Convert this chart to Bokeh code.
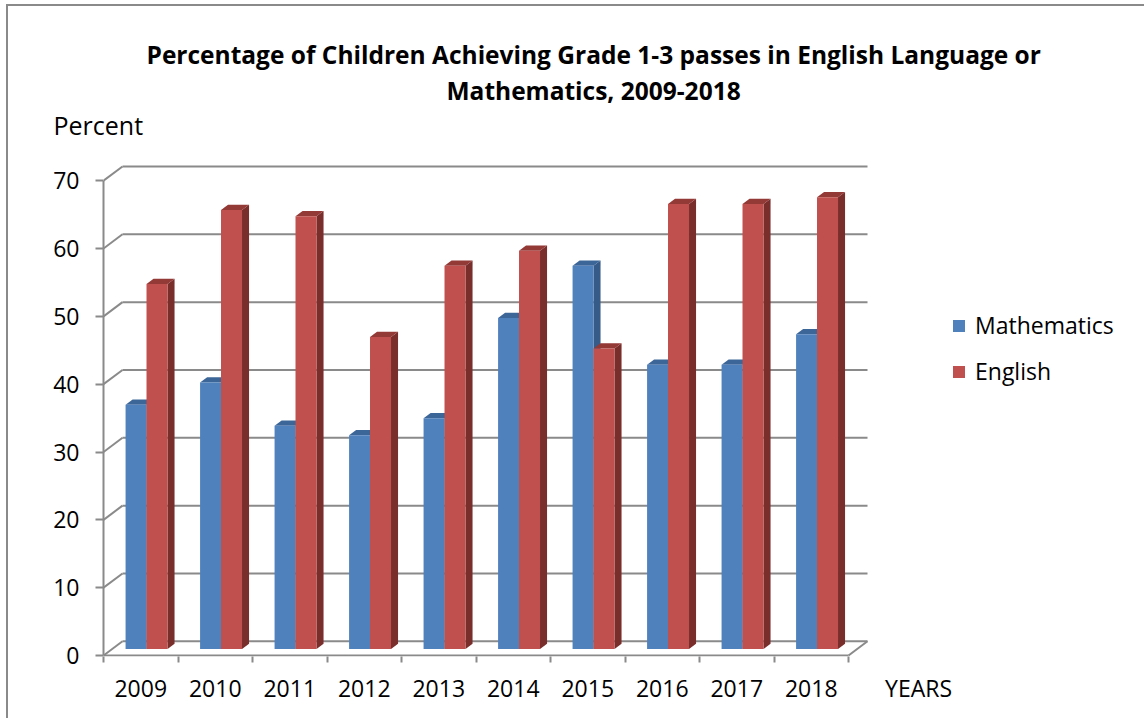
from bokeh.plotting import figure
from bokeh.models import Range1d, FixedTicker, Legend, LegendItem, Title
from bokeh.embed import file_html
from bokeh.resources import INLINE

# ---------------- data ----------------
years = ["2009", "2010", "2011", "2012", "2013", "2014", "2015", "2016", "2017", "2018"]
mathematics = [36.0, 39.3, 32.9, 31.5, 34.0, 48.8, 56.5, 41.9, 41.9, 46.4]
english = [53.8, 64.7, 63.8, 46.0, 56.5, 58.7, 44.3, 65.6, 65.6, 66.6]
y_ticks = [0, 10, 20, 30, 40, 50, 60, 70]
title_lines = ["Percentage of Children Achieving Grade 1-3 passes in English Language or",
               "Mathematics, 2009-2018"]
y_title = "Percent"
x_title = "YEARS"

# ---------------- layout ----------------
FONT = "Open Sans"
W, H = 1138, 714
ML, MB, MT, MR = 95, 64, 154, 0
PX_X = 74.5      # pixels per category
PX_Y = 6.783     # pixels per percent
frame_w = W - ML - MR
frame_h = H - MT - MB
n = len(years)
x_end = frame_w / PX_X
y_start = -1.0 / PX_Y
y_end = y_start + frame_h / PX_Y

DX = 19.0 / PX_X      # depth of the 3D box (x, data units)
DY = 14.2 / PX_Y      # depth of the 3D box (y, data units)
D0, D1 = 0.46, 0.83   # bar depth (fraction of box depth)
GRID = "#8a8a8a"

p = figure(width=W, height=H, output_backend="svg", toolbar_location=None,
           x_range=Range1d(0, x_end), y_range=Range1d(y_start, y_end),
           min_border_left=ML, min_border_right=MR, min_border_top=MT, min_border_bottom=MB)
p.grid.visible = False
p.outline_line_color = None
p.background_fill_color = "white"
p.border_fill_color = "white"
p.styles = {"margin-left": "6px", "margin-top": "4px",
            "border-left": "2px solid #8a8a8a", "border-top": "2px solid #8a8a8a"}

# ---------------- 3D box: back wall gridlines, diagonals, floor ----------------
p.segment(x0=[DX] * len(y_ticks), y0=[t + DY for t in y_ticks],
          x1=[n + DX] * len(y_ticks), y1=[t + DY for t in y_ticks],
          line_color=GRID, line_width=2)
p.segment(x0=[0] * len(y_ticks), y0=y_ticks,
          x1=[DX] * len(y_ticks), y1=[t + DY for t in y_ticks],
          line_color=GRID, line_width=2)
p.segment(x0=[0, n], y0=[0, 0], x1=[n, n + DX], y1=[0, DY], line_color=GRID, line_width=2)

# ---------------- bars ----------------
series = [
    ("Mathematics", mathematics, 0.179, 0.460, "#4F81BD", "#3C6698", "#375B88"),
    ("English", english, 0.460, 0.742, "#C0504D", "#933936", "#792E2C"),
]
legend_items = []
for name, vals, a, b, c_front, c_top, c_side in series:
    xl = [i + a + D0 * DX for i in range(n)]
    xr = [i + b + D0 * DX for i in range(n)]
    bot = D0 * DY
    tops = [v + D0 * DY for v in vals]
    side_xs = [[r, r, r + (D1 - D0) * DX, r + (D1 - D0) * DX] for r in xr]
    side_ys = [[bot, t, t + (D1 - D0) * DY, bot + (D1 - D0) * DY] for t in tops]
    p.patches(side_xs, side_ys, fill_color=c_side, line_color=None)
    top_xs = [[l, r, r + (D1 - D0) * DX, l + (D1 - D0) * DX] for l, r in zip(xl, xr)]
    top_ys = [[t, t, t + (D1 - D0) * DY, t + (D1 - D0) * DY] for t in tops]
    p.patches(top_xs, top_ys, fill_color=c_top, line_color=None)
    r = p.quad(left=xl, right=xr, bottom=[bot] * n, top=tops, fill_color=c_front, line_color=None)
    legend_items.append(LegendItem(label=name, renderers=[r]))

# ---------------- axes ----------------
yax = p.yaxis[0]
yax.ticker = FixedTicker(ticks=y_ticks, minor_ticks=[])
yax.bounds = (0, y_ticks[-1])
yax.axis_line_color = GRID
yax.axis_line_width = 2
yax.major_tick_line_color = GRID
yax.major_tick_line_width = 2
yax.major_tick_out = 8
yax.major_tick_in = 0
yax.minor_tick_line_color = None
yax.major_label_standoff = 16
yax.major_label_text_font = FONT
yax.major_label_text_font_size = "23px"
yax.major_label_text_color = "black"

xax = p.xaxis[0]
centers = [i + 0.5 for i in range(n)]
years_pos = n + 0.94
xax.ticker = FixedTicker(ticks=centers + [years_pos], minor_ticks=list(range(n + 1)))
overrides = {c: y for c, y in zip(centers, years)}
overrides[years_pos] = x_title
xax.major_label_overrides = overrides
xax.axis_line_color = None
xax.major_tick_line_color = None
xax.major_tick_out = 0
xax.major_tick_in = 0
xax.minor_tick_line_color = GRID
xax.minor_tick_line_width = 2
xax.minor_tick_out = 6
xax.minor_tick_in = 0
xax.major_label_standoff = 9
xax.major_label_text_font = FONT
xax.major_label_text_font_size = "23px"
xax.major_label_text_color = "black"

# ---------------- titles (stacked above the frame) ----------------
p.add_layout(Title(text=y_title, align="left", offset=-50, standoff=36.5,
                   text_font=FONT, text_font_style="normal", text_font_size="25px",
                   text_color="black"), "above")
p.add_layout(Title(text=title_lines[1], align="left", offset=343, standoff=-39,
                   text_font=FONT, text_font_style="bold", text_font_size="24.5px",
                   text_color="black"), "above")
p.add_layout(Title(text=title_lines[0], align="left", offset=43, standoff=33,
                   text_font=FONT, text_font_style="bold", text_font_size="24.5px",
                   text_color="black"), "above")

legend = Legend(items=legend_items, location=(848, 269), orientation="vertical",
                glyph_width=15, glyph_height=15, label_standoff=9, spacing=14,
                padding=0, margin=0, label_height=30,
                border_line_color=None, background_fill_alpha=0,
                label_text_font=FONT, label_text_font_size="23px", label_text_color="black")
p.add_layout(legend)

open("out.html", "w").write(file_html(p, INLINE))
